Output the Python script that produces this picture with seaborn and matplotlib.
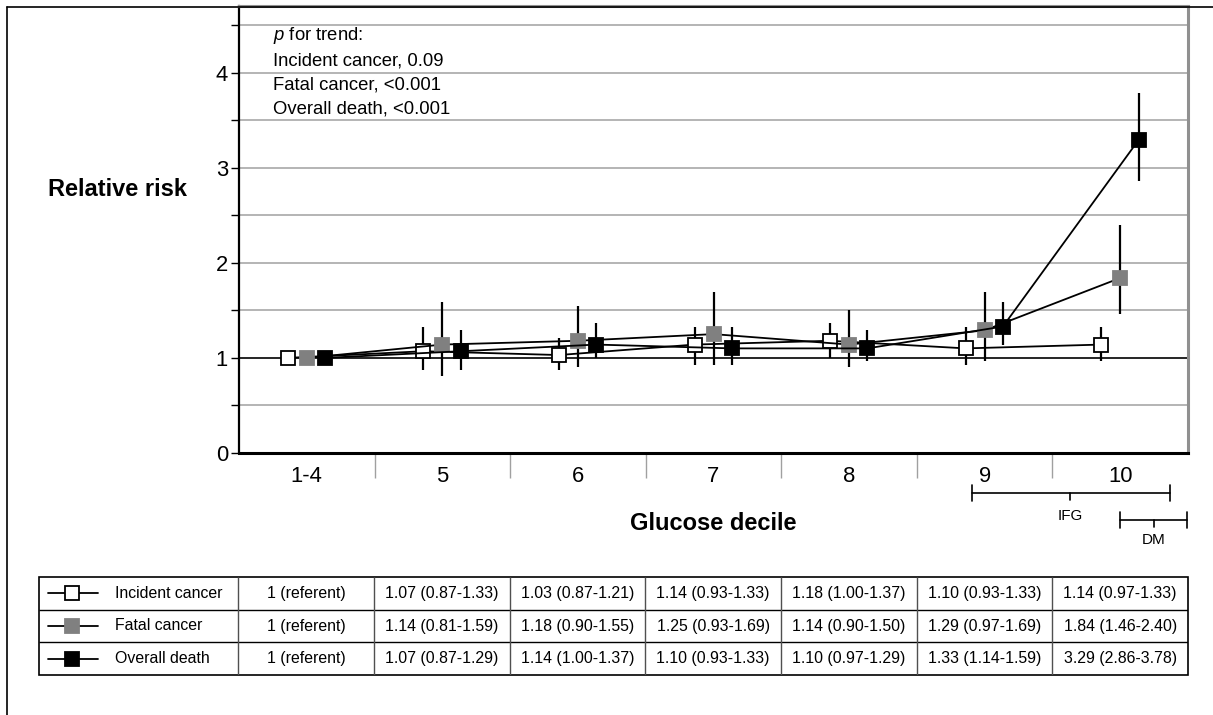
import numpy as np
import pandas as pd
import seaborn as sns
import matplotlib.pyplot as plt
from matplotlib.lines import Line2D
from matplotlib.transforms import blended_transform_factory

# Data (relative risk and 95% CI by glucose decile)
deciles = ['1-4', '5', '6', '7', '8', '9', '10']
series = ['Incident cancer', 'Fatal cancer', 'Overall death']

incident_rr = [1.00, 1.07, 1.03, 1.14, 1.18, 1.10, 1.14]
incident_lo = [1.00, 0.87, 0.87, 0.93, 1.00, 0.93, 0.97]
incident_hi = [1.00, 1.33, 1.21, 1.33, 1.37, 1.33, 1.33]

fatal_rr = [1.00, 1.14, 1.18, 1.25, 1.14, 1.29, 1.84]
fatal_lo = [1.00, 0.81, 0.90, 0.93, 0.90, 0.97, 1.46]
fatal_hi = [1.00, 1.59, 1.55, 1.69, 1.50, 1.69, 2.40]

death_rr = [1.00, 1.07, 1.14, 1.10, 1.10, 1.33, 3.29]
death_lo = [1.00, 0.87, 1.00, 0.93, 0.97, 1.14, 2.86]
death_hi = [1.00, 1.29, 1.37, 1.33, 1.29, 1.59, 3.78]

trend_p = ['0.09', '<0.001', '<0.001']

W, H = 1213, 715

sns.set_style("white")
plt.rcParams['font.family'] = ['Liberation Sans', 'DejaVu Sans']
plt.rcParams['mathtext.fontset'] = 'custom'
plt.rcParams['mathtext.it'] = 'Liberation Sans:italic'
plt.rcParams['mathtext.rm'] = 'Liberation Sans'
for key in ['text.color', 'axes.labelcolor', 'xtick.color', 'ytick.color']:
    plt.rcParams[key] = 'black'

fig = plt.figure(figsize=(W / 100, H / 100), dpi=100)
ax = fig.add_axes([239 / W, 1 - 453 / H, (1188 - 239) / W, (453 - 6) / H])

styles = [
    ('white', 'black', -0.14),
    ('#808080', '#808080', 0.0),
    ('black', 'black', 0.135),
]
all_data = [
    (incident_rr, incident_lo, incident_hi),
    (fatal_rr, fatal_lo, fatal_hi),
    (death_rr, death_lo, death_hi),
]
x = np.arange(len(deciles))

for name, (rr, lo, hi), (fc, ec, off) in zip(series, all_data, styles):
    xpos = x + off
    ax.vlines(xpos, lo, hi, color='black', lw=1.6, zorder=3)
    df = pd.DataFrame({'x': xpos, 'rr': rr})
    sns.lineplot(data=df, x='x', y='rr', ax=ax, color='black', lw=1.3,
                 marker='s', markersize=10, markerfacecolor=fc,
                 markeredgecolor=ec, markeredgewidth=1.3, zorder=4)

ax.set_xlim(-0.5, 6.5)
ax.set_ylim(0, 4.7)
ax.set_yticks(np.arange(0, 5, 1))
ax.set_yticks(np.arange(0.5, 5, 1), minor=True)
ax.set_yticklabels([str(i) for i in range(5)], fontsize=15.8)
ax.grid(axis='y', which='both', color='#a0a0a0', lw=1.1, zorder=0)
ax.axhline(1, color='black', lw=1.1, zorder=2)
ax.tick_params(axis='y', which='both', direction='out', length=6, width=1,
               color='black', pad=2, left=True)

ax.set_xticks(x)
ax.set_xticklabels(deciles, fontsize=15.8)
ax.set_xticks(np.arange(0.5, 6.5, 1), minor=True)
ax.tick_params(axis='x', which='major', length=0, pad=9, bottom=True)
ax.tick_params(axis='x', which='minor', length=18, width=1, color='#a0a0a0',
               direction='out', bottom=True)
ax.set_xlabel('')
ax.set_ylabel('')

for side, col, lw in [('left', 'black', 1.6), ('bottom', 'black', 2.2),
                      ('top', '#909090', 2.2), ('right', '#909090', 2.2)]:
    ax.spines[side].set_visible(True)
    ax.spines[side].set_color(col)
    ax.spines[side].set_linewidth(lw)

# axis titles
fig.text(48 / W, 1 - 190 / H, 'Relative risk', fontsize=17, fontweight='bold',
         ha='left', va='center')
fig.text(713 / W, 1 - 524 / H, 'Glucose decile', fontsize=17,
         fontweight='bold', ha='center', va='center')

# p for trend
p_lines = [r'$\it{p}$ for trend:'] + [f'{s}, {p}' for s, p in zip(series, trend_p)]
for i, t in enumerate(p_lines):
    fig.text(273 / W, 1 - (36 + 24.5 * i) / H, t, fontsize=13.3,
             ha='left', va='center')

# IFG / DM brackets
tr = blended_transform_factory(ax.transData, fig.transFigure)
def bracket(x0, x1, xm, ypx, label, lab_px):
    y = 1 - ypx / H
    cap = 8 / H
    for xs, ys in [([x0, x1], [y, y]), ([x0, x0], [y - cap, y + cap]),
                   ([x1, x1], [y - cap, y + cap]), ([xm, xm], [y, y - 7 / H])]:
        fig.add_artist(Line2D(xs, ys, transform=tr, color='black', lw=1.2))
    fig.text(xm, 1 - lab_px / H, label, transform=tr, fontsize=11,
             ha='center', va='center')

bracket(4.91, 6.37, 5.63, 493, 'IFG', 516)
bracket(6.0, 6.49, 6.25, 520, 'DM', 540)

# outer frame (top and left)
fig.add_artist(Line2D([7 / W, 7 / W], [0, 1 - 7 / H], color='black', lw=1.2))
fig.add_artist(Line2D([7 / W, 1], [1 - 7 / H, 1 - 7 / H], color='black', lw=1.2))

# table
ax_t = fig.add_axes([39 / W, 1 - 675 / H, (1188 - 39) / W, (675 - 577) / H])
px = 135.57
x_left = -0.5 - 199 / px
ax_t.set_xlim(x_left, 6.5)
ax_t.set_ylim(3, 0)
ax_t.axis('off')

ax_t.hlines([1, 2], x_left, 6.5, color='black', lw=1)
ax_t.vlines(np.arange(-0.5, 6.5, 1), 0, 3, color='#505050', lw=1)
ax_t.add_patch(plt.Rectangle((x_left, 0), 6.5 - x_left, 3, fill=False,
                             edgecolor='black', lw=1.2, clip_on=False))

def to_x(p):
    return -0.5 - (238 - p) / px

for r, (name, (rr, lo, hi), (fc, ec, off)) in enumerate(zip(series, all_data, styles)):
    yc = r + 0.5
    ax_t.plot([to_x(48), to_x(98)], [yc, yc], color='black', lw=1.3)
    ax_t.plot([to_x(72)], [yc], marker='s', markersize=10, markerfacecolor=fc,
              markeredgecolor=ec, markeredgewidth=1.3, color='black')
    ax_t.text(to_x(115), yc, name, fontsize=11.4, ha='left', va='center')
    for c in range(len(deciles)):
        if c == 0:
            s = '1 (referent)'
        else:
            s = f'{rr[c]:.2f} ({lo[c]:.2f}-{hi[c]:.2f})'
        ax_t.text(c, yc, s, fontsize=11.4, ha='center', va='center')

fig.savefig('out.png', dpi=100)
